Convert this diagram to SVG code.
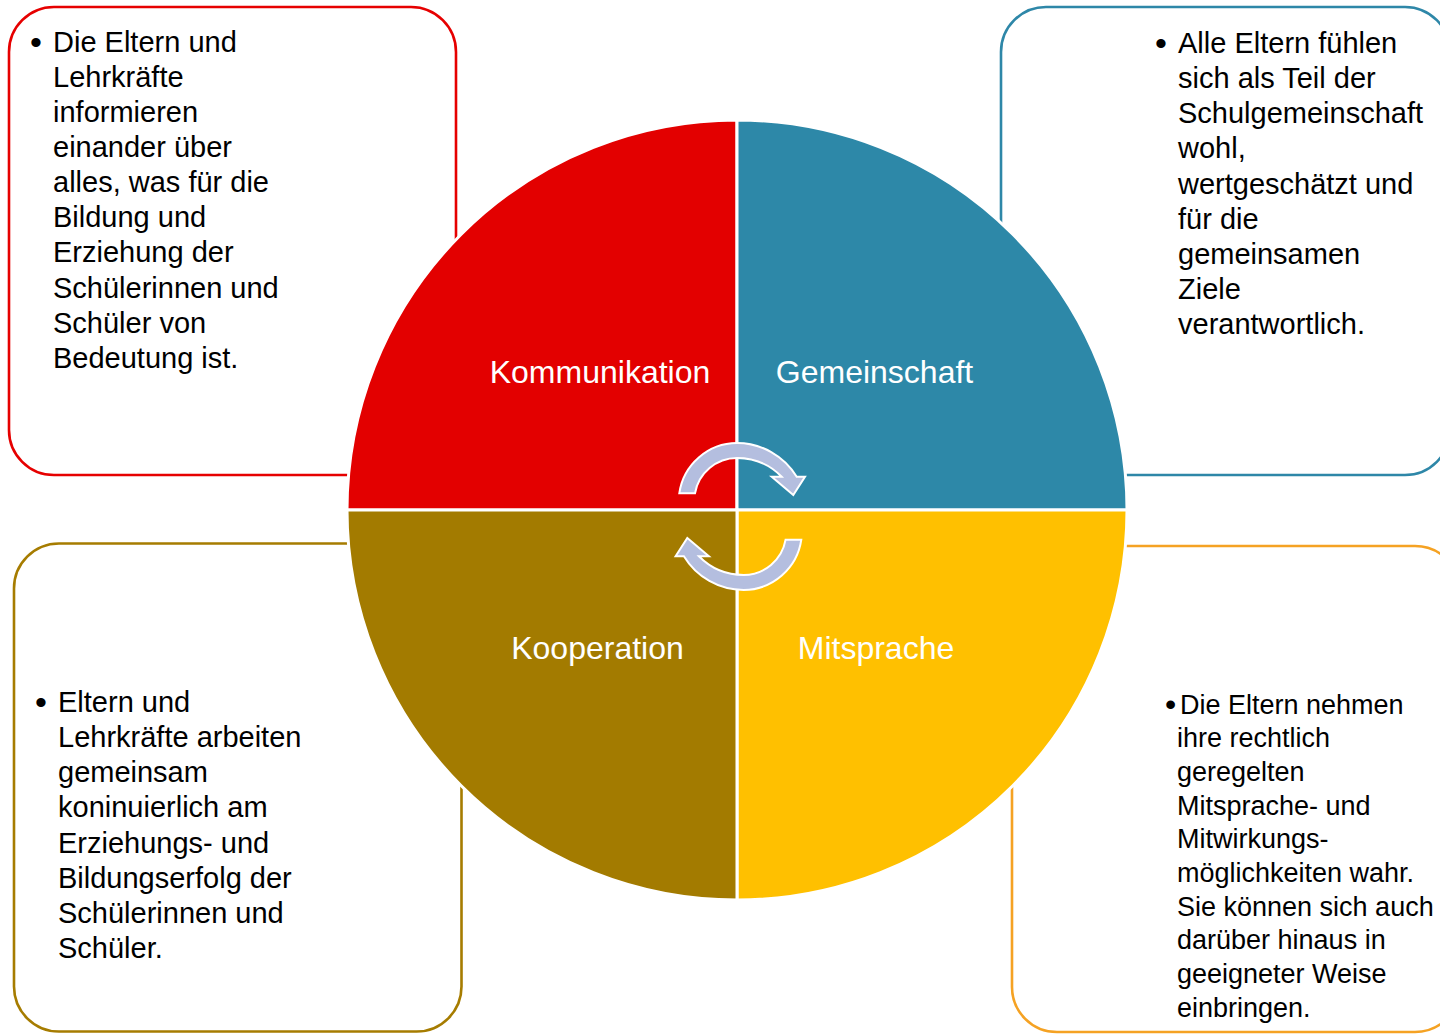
<svg xmlns="http://www.w3.org/2000/svg" width="1440" height="1034" viewBox="0 0 1440 1034">
<style>
.box{fill:#fff;stroke-width:2.6}
.t{font-family:"Liberation Sans",Arial,sans-serif;font-size:29px;fill:#000}
.t27{font-family:"Liberation Sans",Arial,sans-serif;font-size:27px;fill:#000}
.b{font-family:"Liberation Sans",Arial,sans-serif;font-size:34px;fill:#000}
.lbl{font-family:"Liberation Sans",Arial,sans-serif;font-size:32px;fill:#fff;text-anchor:middle}
.q{stroke:#fff;stroke-width:3}
.arr{fill:#B4BEDF;stroke:#fff;stroke-width:2}
</style>
<rect width="1440" height="1034" fill="#fff"/>
<g id="box-kommunikation">
<rect class="box" x="9" y="7" width="447" height="468" rx="45" stroke="#E60000"/>
<text class="b" x="30" y="54">•</text>
<text class="t" x="53" y="52">Die Eltern und</text>
<text class="t" x="53" y="87">Lehrkräfte</text>
<text class="t" x="53" y="122">informieren</text>
<text class="t" x="53" y="157">einander über</text>
<text class="t" x="53" y="192">alles, was für die</text>
<text class="t" x="53" y="227">Bildung und</text>
<text class="t" x="53" y="262">Erziehung der</text>
<text class="t" x="53" y="298">Schülerinnen und</text>
<text class="t" x="53" y="333">Schüler von</text>
<text class="t" x="53" y="368">Bedeutung ist.</text>
</g>
<g id="box-gemeinschaft">
<rect class="box" x="1001" y="7" width="449" height="468" rx="45" stroke="#2E87A8"/>
<text class="b" x="1155" y="55">•</text>
<text class="t" x="1178" y="53">Alle Eltern fühlen</text>
<text class="t" x="1178" y="88">sich als Teil der</text>
<text class="t" x="1178" y="123">Schulgemeinschaft</text>
<text class="t" x="1178" y="158">wohl,</text>
<text class="t" x="1178" y="193.5">wertgeschätzt und</text>
<text class="t" x="1178" y="228.5">für die</text>
<text class="t" x="1178" y="263.5">gemeinsamen</text>
<text class="t" x="1178" y="299">Ziele</text>
<text class="t" x="1178" y="334">verantwortlich.</text>
</g>
<g id="box-kooperation">
<rect class="box" x="14" y="543.5" width="447.5" height="488" rx="45" stroke="#A67C00"/>
<text class="b" x="35" y="714">•</text>
<text class="t" x="58" y="712">Eltern und</text>
<text class="t" x="58" y="747">Lehrkräfte arbeiten</text>
<text class="t" x="58" y="782">gemeinsam</text>
<text class="t" x="58" y="817">koninuierlich am</text>
<text class="t" x="58" y="852.5">Erziehungs- und</text>
<text class="t" x="58" y="887.5">Bildungserfolg der</text>
<text class="t" x="58" y="922.5">Schülerinnen und</text>
<text class="t" x="58" y="958">Schüler.</text>
</g>
<g id="box-mitsprache">
<rect class="box" x="1012" y="546" width="448" height="486" rx="45" stroke="#F5A223"/>
<text class="t27" x="1165" y="713.5"><tspan font-size="32px" dy="1.5">•</tspan><tspan x="1180" dy="-1.5">Die Eltern nehmen</tspan></text>
<text class="t27" x="1177" y="747">ihre rechtlich</text>
<text class="t27" x="1177" y="781">geregelten</text>
<text class="t27" x="1177" y="814.5">Mitsprache- und</text>
<text class="t27" x="1177" y="848">Mitwirkungs-</text>
<text class="t27" x="1177" y="882">möglichkeiten wahr.</text>
<text class="t27" x="1177" y="915.5">Sie können sich auch</text>
<text class="t27" x="1177" y="949">darüber hinaus in</text>
<text class="t27" x="1177" y="983">geeigneter Weise</text>
<text class="t27" x="1177" y="1016.5">einbringen.</text>
</g>
<g id="quadrant-kommunikation">
<path class="q" fill="#E30000" d="M737,510 L347,510 A390,390 0 0 1 737,120 Z"/>
<text class="lbl" x="600" y="383">Kommunikation</text>
</g>
<g id="quadrant-gemeinschaft">
<path class="q" fill="#2D88A8" d="M737,510 L737,120 A390,390 0 0 1 1127,510 Z"/>
<text class="lbl" x="874.5" y="383">Gemeinschaft</text>
</g>
<g id="quadrant-mitsprache">
<path class="q" fill="#FFC000" d="M737,510 L1127,510 A390,390 0 0 1 737,900 Z"/>
<text class="lbl" x="876" y="659">Mitsprache</text>
</g>
<g id="quadrant-kooperation">
<path class="q" fill="#A37B00" d="M737,510 L737,900 A390,390 0 0 1 347,510 Z"/>
<text class="lbl" x="597.5" y="659">Kooperation</text>
</g>
<g id="connectors">
<path id="arrow-top" class="arr" d="M679.3,493.3 A58.6,58.6 0 0 1 737,443 A70,70 0 0 1 796.7,476.7 L805,476.7 L793.3,495 L771.7,476.7 L781.7,476.7 A62.8,62.8 0 0 0 737,458 A42.7,42.7 0 0 0 695,493.3 Z"/>
<path id="arrow-bottom" class="arr" transform="rotate(180 740.3 516.5)" d="M679.3,493.3 A58.6,58.6 0 0 1 737,443 A70,70 0 0 1 796.7,476.7 L805,476.7 L793.3,495 L771.7,476.7 L781.7,476.7 A62.8,62.8 0 0 0 737,458 A42.7,42.7 0 0 0 695,493.3 Z"/>
</g>
</svg>
